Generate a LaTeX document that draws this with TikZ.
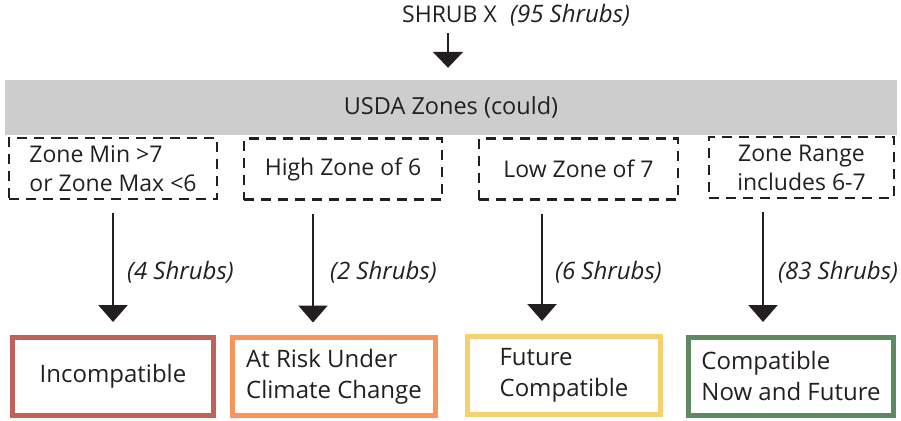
\documentclass[tikz,border=0pt]{standalone}
\usepackage{fontspec}
\setmainfont{Open Sans}
\usetikzlibrary{arrows.meta}
\definecolor{txt}{HTML}{231F20}
\definecolor{bandgray}{HTML}{CDCDCD}
\definecolor{cred}{HTML}{C0625A}
\definecolor{corange}{HTML}{F7955A}
\definecolor{cyellow}{HTML}{F6D26E}
\definecolor{cgreen}{HTML}{5F8A5F}
\tikzset{
  every node/.style={text=txt, font=\fontsize{23}{29}\selectfont},
  dbox/.style={draw=txt, line width=2.8pt, dash pattern=on 10pt off 7pt, minimum height=61pt, align=center, inner sep=0pt},
  ldbox/.style={dbox, align=left},
  cbox/.style={draw=#1, line width=5pt, minimum height=78pt, align=left, inner sep=0pt, font=\fontsize{24}{31}\selectfont},
  flow/.style={draw=txt, line width=2.5pt, -{Triangle[width=29pt,length=17pt]}, shorten <=13pt, shorten >=12.5pt},
  cnt/.style={font=\fontsize{24}{29}\selectfont\itshape, anchor=west, inner sep=0pt},
}
\begin{document}
\begin{tikzpicture}[x=1pt,y=-1pt]
\useasboundingbox (0,0) rectangle (901,420);
% top
\node[anchor=base, inner sep=0pt] (shrub) at (449.5,23) {SHRUB X};
\node[cnt, anchor=base west] (total) at (510,23) {(95 Shrubs)};
\node[fill=bandgray, minimum width=892pt, minimum height=55pt, inner sep=0pt, font=\fontsize{23.5}{29}\selectfont] (band) at (451,107.5) {USDA Zones (could)};
\draw[draw=txt, line width=2.2pt, -{Triangle[width=30pt,length=16pt]}, shorten <=10pt, shorten >=12pt] ([xshift=-1.5pt]shrub.south) -- ([xshift=-3pt]band.north);
% dashed criteria
\node[ldbox, minimum width=208pt] (d1) at (113,168.5) {Zone Min >7\\or Zone Max <6};
\node[dbox, minimum width=198pt] (d2) at (343,169) {High Zone of 6};
\node[dbox, minimum width=199pt] (d3) at (578.5,169) {Low Zone of 7};
\node[dbox, minimum width=185pt] (d4) at (801.5,167.5) {Zone Range\\includes 6-7};
% outcome boxes
\node[cbox=cred, minimum width=201pt, align=center] (b1) at (113,376) {Incompatible};
\node[cbox=corange, minimum width=203pt] (b2) at (334,376.5) {At Risk Under\\Climate Change};
\node[cbox=cyellow, minimum width=193pt] (b3) at (564,375) {Future\\Compatible};
\node[cbox=cgreen, minimum width=205pt] (b4) at (791,376) {Compatible\\Now and Future};
% arrows
\draw[flow] (d1.south) -- (b1.north);
\draw[flow] ([xshift=-30pt]d2.south) -- ([xshift=-21pt]b2.north);
\draw[flow] ([xshift=-36.5pt]d3.south) -- ([xshift=-22pt]b3.north);
\draw[flow] ([xshift=-38.5pt]d4.south) -- ([xshift=-28pt]b4.north);
% counts
\node[cnt] (c1) at (127,272) {(4 Shrubs)};
\node[cnt] (c2) at (330,272) {(2 Shrubs)};
\node[cnt] (c3) at (555,272) {(6 Shrubs)};
\node[cnt] (c4) at (778,272) {(83 Shrubs)};
\end{tikzpicture}
\end{document}
